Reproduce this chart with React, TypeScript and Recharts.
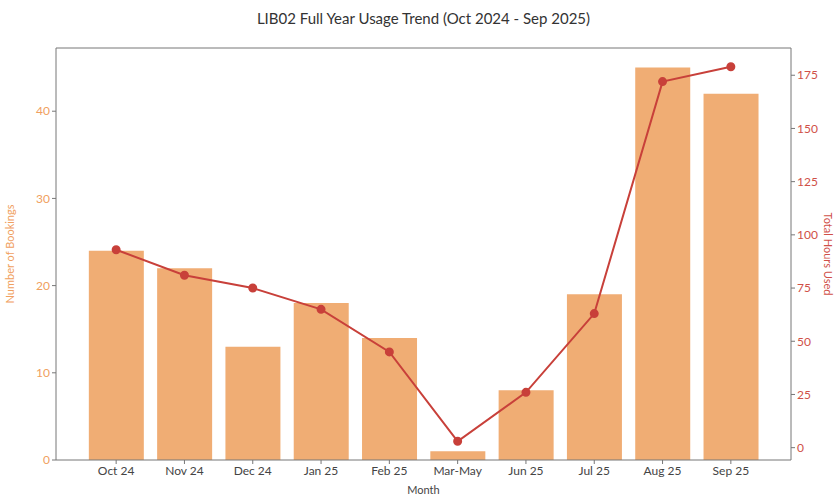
import { ComposedChart, Bar, Line, XAxis, YAxis, ReferenceLine } from "recharts";

const months = ["Oct 24", "Nov 24", "Dec 24", "Jan 25", "Feb 25", "Mar-May", "Jun 25", "Jul 25", "Aug 25", "Sep 25"];
const bookings = [24, 22, 13, 18, 14, 1, 8, 19, 45, 42];
const hours = [93, 81, 75, 65, 45, 3, 26, 63, 172, 179];
const leftTicks = [0, 10, 20, 30, 40];
const rightTicks = [0, 25, 50, 75, 100, 125, 150, 175];

const FONT = "Lato, 'Open Sans', sans-serif";
const BAR = "#f0ad74";
const LINE = "#c8403a";
const AXIS = "#777";

export default function App() {
  const data = months.map((m, i) => ({ month: m, bookings: bookings[i], hours: hours[i] }));

  return (
    <div style={{ position: "absolute", left: 0, top: 0, width: 836, height: 495, background: "#fff", fontFamily: FONT }}>
      <div
        style={{
          position: "absolute",
          top: 9,
          left: 56,
          width: 735,
          textAlign: "center",
          fontSize: 15,
          color: "#333",
        }}
      >
        LIB02 Full Year Usage Trend (Oct 2024 - Sep 2025)
      </div>
      <ComposedChart
        width={836}
        height={495}
        data={data}
        margin={{ top: 48, right: 0, bottom: 0, left: 0 }}
        barCategoryGap="10%"
        style={{ fontFamily: FONT }}
      >
        <XAxis
          dataKey="month"
          height={35}
          padding={{ left: 26, right: 26 }}
          stroke={AXIS}
          tick={{ fill: "#444", fontSize: 12 }}
          tickSize={4}
          label={{ value: "Month", position: "insideBottom", offset: 1, fill: "#444", fontSize: 11 }}
        />
        <YAxis
          yAxisId="left"
          width={56}
          domain={[0, 47.25]}
          ticks={leftTicks}
          stroke={AXIS}
          tick={{ fill: "#f0a060", fontSize: 12 }}
          tickSize={4}
          label={{ value: "Number of Bookings", angle: -90, position: "insideLeft", offset: 10, fill: "#f0a060", fontSize: 11, style: { textAnchor: "middle" } }}
        />
        <YAxis
          yAxisId="right"
          orientation="right"
          width={45}
          domain={[-5.8, 187.8]}
          ticks={rightTicks}
          stroke={AXIS}
          tick={{ fill: "#d05048", fontSize: 12 }}
          tickSize={4}
          label={{ value: "Total Hours Used", angle: 90, position: "insideRight", offset: 8, fill: "#d05048", fontSize: 11, style: { textAnchor: "middle" } }}
        />
        <ReferenceLine yAxisId="left" y={47.25} stroke={AXIS} />
        <Bar yAxisId="left" dataKey="bookings" fill={BAR} isAnimationActive={false} />
        <Line
          yAxisId="right"
          dataKey="hours"
          stroke={LINE}
          strokeWidth={2}
          dot={{ r: 3.5, fill: LINE, stroke: LINE }}
          isAnimationActive={false}
        />
      </ComposedChart>
    </div>
  );
}
